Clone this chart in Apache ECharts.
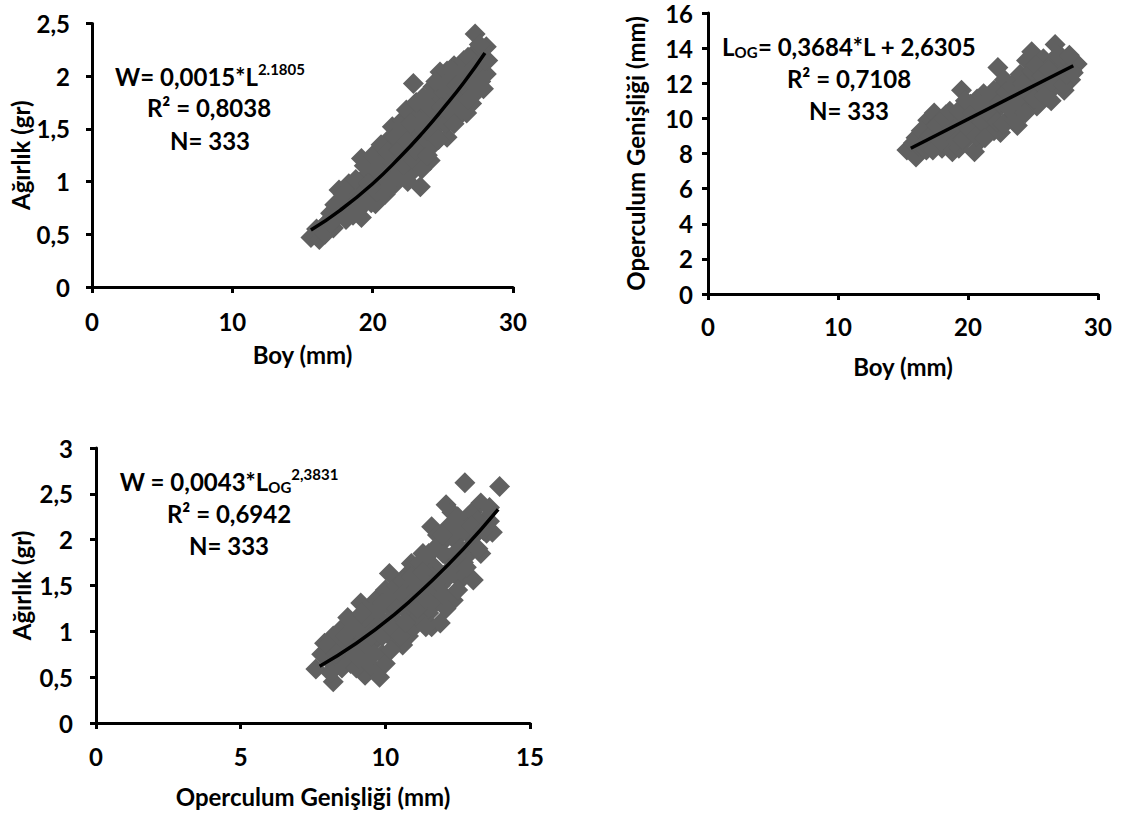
<!DOCTYPE html>
<html><head><meta charset="utf-8">
<script src="https://cdn.jsdelivr.net/npm/echarts@6/dist/echarts.min.js"></script>
<style>html,body{margin:0;padding:0;background:#fff}#c{width:1122px;height:818px}</style>
</head><body><div id="c"></div>
<script>
// Chart 1: Boy (mm) vs Ağırlık (gr)
const boyWeight = [
[15.6,0.47],[16.2,0.45],[16.0,0.55],[16.5,0.58],[16.8,0.62],[17.0,0.70],[17.2,0.56],[17.4,0.66],[17.6,0.72],[17.6,0.92],
[17.8,0.80],[18.0,0.70],[18.2,0.85],[18.4,0.76],[18.5,0.95],[18.7,0.88],[18.9,0.72],[19.0,0.82],[19.2,0.66],[19.2,1.22],
[19.3,0.95],[19.5,1.05],[19.6,0.85],[19.8,1.12],[20.0,0.92],[20.1,1.00],[20.2,1.20],[20.2,0.79],[20.5,1.08],[20.6,0.95],
[20.7,1.30],[20.8,1.15],[21.0,1.02],[21.0,1.38],[21.2,1.22],[21.3,1.10],[21.4,1.52],[21.5,1.30],[21.6,0.98],[21.8,1.20],
[21.9,1.40],[22.0,1.10],[22.1,1.58],[22.2,1.30],[22.3,1.05],[22.4,1.68],[22.5,1.45],[22.6,1.20],[22.9,1.93],[22.8,1.35],
[23.0,1.55],[23.0,1.12],[23.2,1.62],[23.3,1.40],[23.4,1.25],[23.4,0.95],[23.6,1.50],[23.7,1.72],[23.8,1.35],[24.0,1.58],
[24.0,1.80],[24.1,1.20],[24.2,1.45],[24.3,1.90],[24.4,1.65],[24.6,1.75],[24.8,1.55],[24.8,2.04],[25.0,1.85],[25.1,1.65],
[25.3,1.42],[25.3,2.05],[25.4,1.78],[25.6,1.95],[25.7,1.70],[25.8,2.10],[25.9,1.85],[26.0,1.60],[26.2,2.00],[26.3,1.78],
[26.5,2.15],[26.6,1.90],[26.7,1.65],[26.9,2.05],[27.05,1.74],[27.1,2.20],[27.3,2.40],[27.3,1.95],[27.5,2.12],[27.8,2.03],
[27.8,2.25],[27.9,1.88],[28.1,2.28],[28.1,2.02],[28.2,2.15],
[16.6,0.50],[17.0,0.60],[17.3,0.78],[17.9,0.88],[18.1,0.64],[18.3,0.98],[18.6,0.68],[18.8,1.02],[19.1,0.75],[19.4,0.88],
[19.4,1.15],[19.7,0.98],[19.9,0.80],[20.0,1.25],[20.3,0.90],[20.4,1.15],[20.6,1.35],[20.9,0.88],[21.1,1.28],[21.2,0.95],
[21.4,1.18],[21.6,1.42],[21.7,1.05],[21.9,1.30],[22.0,1.52],[22.2,1.15],[22.4,1.38],[22.5,1.00],[22.7,1.55],[22.9,1.20],
[23.1,1.75],[23.1,1.30],[23.3,1.55],[23.5,1.12],[23.6,1.80],[23.8,1.60],[23.9,1.25],[24.1,1.70],[24.3,1.35],[24.5,1.95],
[24.5,1.52],[24.7,1.40],[24.9,1.70],[25.1,1.92],[25.2,1.55],[25.5,1.65],[25.6,2.05],[25.8,1.55],[26.0,1.92],[26.1,1.72],
[26.4,2.05],[26.4,1.68],[26.8,1.78],[26.8,2.18],[27.0,1.95],[27.2,2.08],[27.4,1.85],[27.6,2.30],[27.7,1.95],[28.0,2.15]
];
const trendBoyWeight = [[15.6,0.54],[17.7,0.73],[20.0,0.98],[22.0,1.24],[23.6,1.47],[25.0,1.69],[26.5,1.94],[28.0,2.22]];

// Chart 2: Boy (mm) vs Operculum Genişliği (mm)
const boyOperc = [
[15.3,8.2],[15.8,8.6],[16.0,7.8],[16.3,8.4],[16.5,9.0],[16.8,8.2],[16.9,9.9],[17.0,8.7],[17.2,9.4],[17.4,10.3],
[17.5,8.5],[17.7,9.0],[17.8,9.8],[18.0,8.3],[18.2,9.4],[18.3,10.2],[18.5,8.9],[18.7,9.7],[18.8,8.1],[19.0,10.0],
[19.2,9.2],[19.3,8.3],[19.5,11.6],[19.5,10.6],[19.7,9.6],[19.9,10.2],[20.0,8.9],[20.2,10.8],[20.5,8.1],[20.5,9.6],
[20.7,11.1],[20.8,10.2],[21.0,8.8],[21.0,9.5],[21.2,11.4],[21.4,10.5],[21.6,9.8],[21.8,11.0],[22.0,9.3],[22.1,10.4],
[22.3,12.9],[22.4,11.7],[22.5,9.2],[22.6,10.8],[22.8,12.2],[23.0,11.2],[23.1,9.9],[23.3,10.5],[23.5,12.0],[23.7,11.3],
[23.8,9.6],[24.0,12.5],[24.1,10.6],[24.3,11.8],[24.5,13.3],[24.6,10.9],[24.8,12.2],[24.9,13.8],[25.0,11.5],[25.3,10.7],
[25.4,12.8],[25.6,11.9],[25.8,13.4],[26.0,12.3],[26.1,11.2],[26.3,13.0],[26.5,11.7],[26.7,14.2],[26.8,12.6],[27.0,11.9],
[27.2,13.5],[27.4,11.6],[27.5,12.8],[27.7,13.3],[28.0,12.7],[28.2,13.2],[28.4,13.1],[27.9,12.2],
[16.0,8.9],[16.4,9.3],[16.7,8.6],[17.1,9.0],[17.3,8.2],[17.6,9.6],[17.9,8.7],[18.1,10.0],[18.4,9.1],[18.6,10.4],
[18.9,9.3],[19.1,8.7],[19.3,10.4],[19.6,8.8],[19.8,11.0],[20.1,9.4],[20.3,10.3],[20.6,9.0],[20.9,10.8],[21.1,9.8],
[21.3,8.9],[21.5,11.0],[21.7,10.2],[22.0,11.6],[22.2,9.8],[22.4,10.9],[22.7,9.7],[22.9,11.5],[23.1,10.6],[23.4,11.8],
[23.6,9.9],[23.9,11.0],[24.2,12.0],[24.4,10.3],[24.7,11.4],[24.9,12.7],[25.1,11.1],[25.2,13.0],[25.5,10.9],[25.7,12.4],
[25.9,11.3],[26.2,12.8],[26.4,11.0],[26.6,12.2],[26.9,13.6],[27.1,12.4],[27.3,11.9],[27.6,12.5],[27.8,13.6],[28.1,12.6]
];
const trendBoyOperc = [[15.6,8.3],[28.1,13.0]];

// Chart 3: Operculum Genişliği (mm) vs Ağırlık (gr)
const opercWeight = [
[7.6,0.59],[7.9,0.87],[8.0,0.70],[8.2,0.45],[8.3,0.62],[8.5,1.03],[8.6,0.78],[8.7,0.90],[8.8,0.65],[9.0,1.10],
[9.0,0.82],[9.15,1.31],[9.2,0.95],[9.3,0.52],[9.4,1.20],[9.4,0.70],[9.5,1.05],[9.6,0.88],[9.7,1.35],[9.8,0.50],
[9.8,1.15],[9.9,0.75],[10.0,1.45],[10.0,1.00],[10.14,1.63],[10.2,1.25],[10.3,0.90],[10.4,1.50],[10.4,1.10],[10.5,1.35],
[10.6,0.85],[10.7,1.60],[10.8,1.20],[10.9,1.74],[10.9,1.45],[11.0,1.05],[11.2,1.35],[11.3,1.85],[11.4,1.55],[11.5,1.20],
[11.6,2.14],[11.6,1.05],[11.7,1.70],[11.8,1.40],[11.9,1.95],[11.9,1.09],[12.0,1.60],[12.1,2.38],[12.2,1.80],[12.3,2.30],
[12.35,1.34],[12.4,2.00],[12.5,1.65],[12.6,1.56],[12.75,2.62],[12.8,2.15],[12.9,1.85],[13.0,2.30],[13.04,1.56],[13.1,2.05],
[13.3,2.40],[13.4,2.20],[13.5,2.07],[13.6,2.35],[13.7,2.08],[13.95,2.58],
[7.8,0.75],[8.1,0.55],[8.2,0.95],[8.4,0.80],[8.5,0.60],[8.7,1.15],[8.9,0.75],[9.0,0.60],[9.1,1.00],[9.3,0.85],
[9.3,1.15],[9.5,0.62],[9.6,1.25],[9.7,0.95],[9.9,1.30],[10.0,0.65],[10.1,1.10],[10.2,0.80],[10.3,1.40],[10.5,1.00],
[10.6,1.55],[10.7,1.25],[10.8,0.95],[10.9,1.60],[11.0,1.35],[11.1,1.15],[11.2,1.75],[11.3,1.45],[11.4,1.05],[11.5,1.85],
[11.6,1.60],[11.7,1.30],[11.8,2.05],[11.9,1.50],[12.0,1.85],[12.1,1.25],[12.2,2.15],[12.3,1.70],[12.5,2.25],[12.6,1.90],
[12.7,1.75],[12.9,2.05],[13.0,1.95],[13.2,2.20],[13.3,1.85],[13.6,2.20],
[8.0,0.85],[8.3,0.75],[8.6,0.95],[8.9,1.05],[9.1,0.70],[9.2,1.20],[9.5,0.95],[9.6,0.75],[9.8,1.25],[9.9,0.95],
[10.1,1.35],[10.2,1.05],[10.4,1.25],[10.5,0.95],[10.6,1.40],[10.7,1.10],[10.9,1.30],[11.0,1.55],[11.1,1.25],[11.3,1.65],
[11.4,1.35],[11.5,1.50],[11.7,1.90],[11.8,1.55],[12.0,1.40],[12.0,2.05],[12.2,1.60],[12.4,1.85],[12.5,1.45],[12.7,2.10],
[12.8,1.70],[13.0,2.15],[13.2,1.90],[13.4,2.10]
];
const trendOpercWeight = [[7.73,0.62],[9.0,0.87],[10.3,1.18],[11.5,1.52],[12.7,1.90],[13.9,2.33]];

// Axis names and annotation texts
const nameBoy = 'Boy (mm)';
const nameWeight = 'Ağırlık (gr)';
const nameOperc = 'Operculum Genişliği (mm)';
const eq1 = ['W= 0,0015*L', '2.1805', 'R² = 0,8038', 'N= 333'];
const eq2 = ['L', 'OG', '= 0,3684*L + 2,6305', 'R² = 0,7108', 'N= 333'];
const eq3 = ['W = 0,0043*L', 'OG', '2,3831', 'R² = 0,6942', 'N= 333'];

const FONT = 'Lato';
const FS = 24;
const fmt = v => String(v).replace('.', ',');

function lab(margin) {
  return {color: '#000', fontFamily: FONT, fontWeight: 'bold', fontSize: FS, margin: margin, formatter: fmt};
}
function axisCommon(extra) {
  return Object.assign({
    type: 'value',
    splitLine: {show: false},
    axisLine: {show: true, lineStyle: {color: '#000', width: 3}},
    axisTick: {show: true, length: 6, lineStyle: {color: '#000', width: 3}},
    nameLocation: 'middle',
    nameTextStyle: {color: '#000', fontFamily: FONT, fontWeight: 'bold', fontSize: FS}
  }, extra);
}

const scatterStyle = {color: '#606060', opacity: 1};
const lineStyle = {color: '#000', width: 3.5};

const rich = {
  a: {fontFamily: FONT, fontWeight: 'bold', fontSize: FS, color: '#000', lineHeight: 30, verticalAlign: 'middle'},
  sup: {fontFamily: FONT, fontWeight: 'bold', fontSize: 15, color: '#000', lineHeight: 30, verticalAlign: 'middle', padding: [0,0,15,0]},
  sub: {fontFamily: FONT, fontWeight: 'bold', fontSize: 15, color: '#000', lineHeight: 30, verticalAlign: 'middle', padding: [12,0,0,0]}
};
function txt(x, y, s) {
  return {type: 'text', x: x, y: y, style: {text: s, rich: rich, align: 'center', verticalAlign: 'middle'}};
}

const chart = echarts.init(document.getElementById('c'), null, {renderer: 'svg'});
chart.setOption({
  backgroundColor: '#fff',
  animation: false,
  grid: [
    {left: 92, top: 23.5, width: 421, height: 263.5},
    {left: 708, top: 13, width: 390, height: 281},
    {left: 96, top: 448, width: 434, height: 275}
  ],
  xAxis: [
    axisCommon({gridIndex: 0, min: 0, max: 30, interval: 10, name: nameBoy, nameGap: 55, axisLabel: lab(22)}),
    axisCommon({gridIndex: 1, min: 0, max: 30, interval: 10, name: nameBoy, nameGap: 60, axisLabel: lab(20)}),
    axisCommon({gridIndex: 2, min: 0, max: 15, interval: 5, name: nameOperc, nameGap: 61, axisLabel: lab(21)})
  ],
  yAxis: [
    axisCommon({gridIndex: 0, min: 0, max: 2.5, interval: 0.5, name: nameWeight, nameGap: 56, axisLabel: lab(22)}),
    axisCommon({gridIndex: 1, min: 0, max: 16, interval: 2, name: nameOperc, nameGap: 61, axisLabel: lab(15)}),
    axisCommon({gridIndex: 2, min: 0, max: 3, interval: 0.5, name: nameWeight, nameGap: 63, axisLabel: lab(23)})
  ],
  series: [
    {type: 'scatter', xAxisIndex: 0, yAxisIndex: 0, symbol: 'diamond', symbolSize: 21, itemStyle: scatterStyle, data: boyWeight},
    {type: 'line', xAxisIndex: 0, yAxisIndex: 0, smooth: true, showSymbol: false, symbol: 'none', lineStyle: lineStyle, data: trendBoyWeight, z: 5},
    {type: 'scatter', xAxisIndex: 1, yAxisIndex: 1, symbol: 'diamond', symbolSize: 21, itemStyle: scatterStyle, data: boyOperc},
    {type: 'line', xAxisIndex: 1, yAxisIndex: 1, showSymbol: false, symbol: 'none', lineStyle: lineStyle, data: trendBoyOperc, z: 5},
    {type: 'scatter', xAxisIndex: 2, yAxisIndex: 2, symbol: 'diamond', symbolSize: 21, itemStyle: scatterStyle, data: opercWeight},
    {type: 'line', xAxisIndex: 2, yAxisIndex: 2, smooth: true, showSymbol: false, symbol: 'none', lineStyle: lineStyle, data: trendOpercWeight, z: 5}
  ],
  graphic: [
    txt(210, 76, '{a|' + eq1[0] + '}{sup|' + eq1[1] + '}'),
    txt(209, 107, '{a|' + eq1[2] + '}'),
    txt(210, 140, '{a|' + eq1[3] + '}'),
    txt(849, 46, '{a|' + eq2[0] + '}{sub|' + eq2[1] + '}{a|' + eq2[2] + '}'),
    txt(849, 78, '{a|' + eq2[3] + '}'),
    txt(849, 110, '{a|' + eq2[4] + '}'),
    txt(229, 481, '{a|' + eq3[0] + '}{sub|' + eq3[1] + '}{sup|' + eq3[2] + '}'),
    txt(229, 513, '{a|' + eq3[3] + '}'),
    txt(229, 545, '{a|' + eq3[4] + '}')
  ]
});
</script>
</body></html>
